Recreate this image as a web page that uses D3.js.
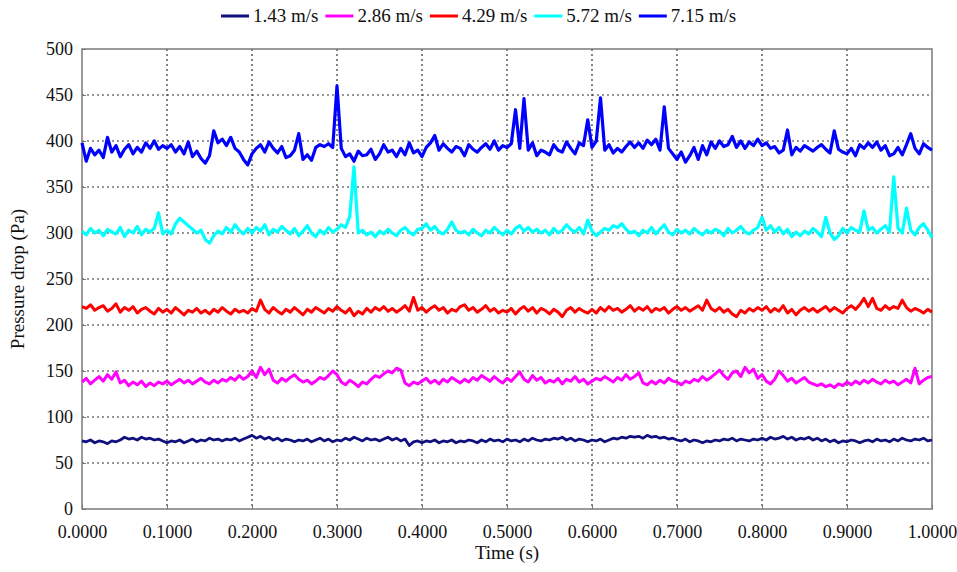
<!DOCTYPE html>
<html>
<head>
<meta charset="utf-8">
<script src="https://cdn.jsdelivr.net/npm/d3@7"></script>
<style>
  body { margin: 0; background: #fff; }
  svg text { font-family: "Liberation Serif", "Times New Roman", serif; fill: #111; }
</style>
</head>
<body>
<svg id="chart" width="957" height="572"></svg>
<script>
// sample times, one reading every 0.005 s
var times = d3.range(0, 201).map(function(i) { return +(i * 0.005).toFixed(3); });

var seriesNames = ["1.43 m/s", "2.86 m/s", "4.29 m/s", "5.72 m/s", "7.15 m/s"];
var seriesColors = ["#10107e", "#ff00ff", "#ff0000", "#00ffff", "#0000ff"];

var xTicks = [0, 0.1, 0.2, 0.3, 0.4, 0.5, 0.6, 0.7, 0.8, 0.9, 1.0];
var yTicks = [0, 50, 100, 150, 200, 250, 300, 350, 400, 450, 500];

var v143 = [
  74, 73, 75, 72, 74, 73, 71, 74, 73, 75,
  78, 76, 77, 75, 78, 76, 77, 75, 76, 74,
  72, 74, 73, 75, 72, 74, 76, 73, 75, 74,
  77, 75, 76, 74, 76, 75, 77, 74, 76, 78,
  80, 77, 79, 76, 78, 75, 77, 74, 76, 75,
  73, 75, 74, 76, 73, 75, 77, 74, 76, 73,
  75, 74, 77, 75, 78, 76, 74, 77, 75, 76,
  74, 76, 78, 75, 77, 74, 76, 69, 73, 74,
  72, 74, 73, 75, 72, 74, 73, 75, 72, 74,
  73, 75, 74, 72, 75, 73, 76, 74, 75, 73,
  76, 74, 75, 73, 76, 74, 77, 75, 74, 76,
  75, 77, 76, 78, 75, 77, 74, 76, 75, 73,
  75, 74, 76, 73, 75, 77, 76, 78, 77, 79,
  78, 79, 77, 80, 78, 79, 77, 78, 76, 77,
  75, 74, 76, 73, 75, 74, 72, 74, 73, 75,
  74, 76, 75, 77, 74, 76, 75, 74, 76, 75,
  77, 75, 78, 76, 77, 79, 76, 78, 75, 77,
  76, 78, 75, 77, 74, 76, 73, 75, 72, 74,
  73, 75, 74, 72, 74, 75, 73, 76, 74, 75,
  73, 76, 74, 77, 75, 74, 76, 75, 77, 74,
  75
];

var v286 = [
  138, 142, 136, 140, 144, 139, 146, 141, 149, 137,
  140, 134, 138, 135, 139, 133, 137, 134, 138, 136,
  139, 135, 138, 141, 137, 140, 136, 139, 142, 138,
  136, 140, 137, 141, 139, 143, 140, 145, 141, 144,
  150, 143, 154, 146, 152, 140, 137, 142, 139, 143,
  146, 141, 138, 140, 136, 139, 143, 141, 145, 150,
  146, 138, 135, 140, 137, 133, 138, 136, 141, 145,
  143, 147, 150, 148, 153, 151, 137, 134, 138, 136,
  139, 142, 137, 140, 136, 141, 138, 143, 140, 137,
  141, 138, 143, 140, 145, 142, 139, 144, 140, 137,
  142, 139, 144, 149, 141, 138, 145, 140, 143, 137,
  140, 138, 142, 136, 141, 139, 144, 138, 141, 136,
  139, 142, 140, 144, 141, 138, 143, 140, 146, 141,
  144, 148, 137, 135, 139, 136, 140, 137, 142, 139,
  138, 135, 139, 137, 141, 139, 144, 140, 143, 147,
  151, 145, 141, 148, 150, 144, 154, 148, 152, 142,
  146, 139, 136, 141, 150, 145, 139, 142, 137, 140,
  143, 138, 136, 134, 136, 133, 135, 132, 136, 134,
  138, 135, 139, 136, 140, 137, 141, 138, 136, 140,
  137, 139, 135, 138, 141, 137, 153, 136, 140, 143,
  144
];

var v429 = [
  220, 218, 222, 216, 219, 221, 215, 218, 223, 214,
  219, 216, 220, 213, 217, 219, 215, 212, 218, 214,
  217, 213, 219, 215, 211, 216, 214, 218, 213, 216,
  212, 217, 214, 219, 215, 212, 217, 214, 216, 213,
  218, 215, 227, 217, 213, 219, 215, 212, 217, 214,
  219, 215, 211, 217, 214, 219, 216, 213, 218, 215,
  220, 216, 213, 218, 210, 215, 212, 218, 214, 219,
  216, 220, 215, 218, 214, 217, 221, 215, 230, 216,
  219, 214, 218, 221, 216, 219, 213, 217, 215, 220,
  222, 216, 219, 214, 217, 221, 215, 218, 213, 216,
  214, 218, 212, 217, 220, 215, 219, 213, 218, 216,
  212, 217, 214, 209, 216, 219, 214, 218, 215, 213,
  217, 213, 219, 215, 220, 216, 218, 214, 217, 221,
  215, 219, 216, 220, 214, 218, 216, 219, 213, 217,
  220, 216, 219, 215, 218, 221, 216, 227, 218, 215,
  219, 214, 217, 212, 209, 216, 213, 218, 215, 219,
  216, 220, 214, 218, 215, 221, 213, 217, 211, 216,
  219, 215, 218, 214, 217, 220, 215, 219, 216, 213,
  218, 221, 217, 222, 229, 220, 229, 218, 216, 221,
  217, 220, 218, 227, 219, 215, 218, 216, 213, 217,
  214
];

var v572 = [
  302, 298, 305, 300, 303, 297, 304, 301, 299, 306,
  296, 303, 300, 307, 298, 304, 301, 305, 322, 299,
  303, 299, 310, 316, 312, 308, 304, 300, 303, 293,
  289, 297, 302, 299, 306, 301, 309, 303, 299, 305,
  300, 306, 302, 309, 298, 304, 301, 307, 303, 299,
  305, 297, 302, 308, 300, 296, 303, 299, 306, 301,
  304, 309, 306, 318, 372, 300, 303, 298, 301, 296,
  302, 299, 304, 300, 297, 303, 306, 301, 298, 304,
  305, 310, 303, 307, 301, 299, 304, 312, 303, 300,
  302, 298, 304, 300, 297, 303, 300, 306, 302, 298,
  303, 299, 305, 308, 302, 306, 301, 304, 300, 303,
  298, 305, 300, 303, 309, 304, 301, 306, 299, 314,
  302, 297, 301, 305, 303, 308, 306, 310, 304, 300,
  302, 297, 303, 300, 306, 299, 304, 309, 301, 298,
  304, 300, 303, 299, 305, 301, 298, 303, 300, 304,
  302, 297, 305, 300, 303, 307, 301, 299, 303, 306,
  317, 303, 308, 301, 306, 299, 304, 296, 301, 297,
  302, 299, 305, 301, 296, 317, 300, 293, 297, 305,
  300, 306, 303, 301, 324, 303, 306, 300, 304, 308,
  301, 361, 305, 300, 327, 303, 298, 306, 310, 303,
  295
];

var v715 = [
  398, 378, 392, 385, 390, 382, 404, 388, 395, 383,
  391, 396, 386, 393, 388, 398, 392, 400, 391, 395,
  392, 396, 388, 394, 386, 399, 383, 389, 381, 376,
  384, 411, 398, 402, 395, 404, 392, 388, 380, 374,
  386, 392, 396, 388, 399, 392, 387, 394, 382, 384,
  390, 408, 380, 385, 379, 393, 396, 394, 397, 393,
  460, 392, 383, 386, 378, 389, 384, 385, 391, 380,
  386, 396, 388, 390, 383, 392, 385, 398, 387, 390,
  383, 393, 398, 406, 390, 397, 392, 388, 394, 392,
  384, 396, 391, 388, 393, 397, 391, 400, 390, 395,
  393, 397, 434, 392, 446, 390, 398, 384, 390, 388,
  385, 396, 390, 388, 399, 392, 386, 398, 395, 423,
  393, 400, 447, 390, 396, 387, 392, 388, 394, 399,
  393, 398, 392, 401, 396, 402, 390, 437, 392, 386,
  380, 388, 377, 384, 393, 380, 395, 385, 399, 392,
  400, 394, 396, 405, 393, 400, 392, 399, 395, 402,
  395, 398, 392, 394, 387, 390, 412, 385, 393, 389,
  395, 392, 389, 393, 396, 391, 387, 411, 391, 388,
  386, 392, 384, 396, 392, 398, 393, 399, 390, 395,
  384, 386, 393, 385, 396, 408, 392, 386, 397, 393,
  390
];

var allValues = [v143, v286, v429, v572, v715];
var strokeWidths = [2.8, 3, 3, 3.2, 3.2];

var svg = d3.select("#chart");
var plotLeft = 82, plotRight = 932, plotTop = 49, plotBottom = 509;

var x = d3.scaleLinear().domain([0, 1]).range([plotLeft, plotRight]);
var y = d3.scaleLinear().domain([0, 500]).range([plotBottom, plotTop]);

// grid
var grid = svg.append("g").attr("class", "grid");
grid.selectAll(".vg").data(xTicks.slice(1, -1)).enter().append("line")
  .attr("x1", function(d) { return x(d); }).attr("x2", function(d) { return x(d); })
  .attr("y1", plotTop).attr("y2", plotBottom)
  .attr("stroke", "#333").attr("stroke-width", 1.2).attr("stroke-dasharray", "2,3");
grid.selectAll(".hg").data(yTicks.slice(1, -1)).enter().append("line")
  .attr("y1", function(d) { return y(d); }).attr("y2", function(d) { return y(d); })
  .attr("x1", plotLeft).attr("x2", plotRight)
  .attr("stroke", "#333").attr("stroke-width", 1.2).attr("stroke-dasharray", "2,3");

// axes
var xAxis = svg.append("g").attr("transform", "translate(0," + plotBottom + ")")
  .call(d3.axisBottom(x).tickValues(xTicks).tickSize(-4).tickPadding(13)
    .tickFormat(d3.format(".4f")));
var yAxis = svg.append("g").attr("transform", "translate(" + plotLeft + ",0)")
  .call(d3.axisLeft(y).tickValues(yTicks).tickSize(-4).tickPadding(9));
[xAxis, yAxis].forEach(function(a) {
  a.select(".domain").remove();
  a.selectAll(".tick line").attr("stroke", "#777");
  a.selectAll("text").style("font-size", "18px").attr("fill", "#111");
});
xAxis.selectAll("text").attr("dy", "0.9em");

// frame
svg.append("rect").attr("x", plotLeft).attr("y", plotTop)
  .attr("width", plotRight - plotLeft).attr("height", plotBottom - plotTop)
  .attr("fill", "none").attr("stroke", "#7a7a7a").attr("stroke-width", 1.5);

// series
var line = d3.line()
  .x(function(d, i) { return x(times[i]); })
  .y(function(d) { return y(d); });

svg.append("g").selectAll("path").data(allValues).enter().append("path")
  .attr("d", line)
  .attr("fill", "none")
  .attr("stroke", function(d, i) { return seriesColors[i]; })
  .attr("stroke-width", function(d, i) { return strokeWidths[i]; })
  .attr("stroke-linejoin", "round");

// legend
var legend = svg.append("g").attr("class", "legend");
var lx = 221;
seriesNames.forEach(function(name, i) {
  var g = legend.append("g").attr("transform", "translate(" + lx + ",16)");
  g.append("line").attr("x1", 0).attr("x2", 28).attr("y1", 0).attr("y2", 0)
    .attr("stroke", seriesColors[i]).attr("stroke-width", 3);
  var t = g.append("text").attr("x", 32).attr("y", 6).style("font-size", "19px").text(name);
  lx += 32 + t.node().getComputedTextLength() + 7;
});

// axis titles
svg.append("text").attr("x", x(0.5)).attr("y", 559)
  .attr("text-anchor", "middle").style("font-size", "19px").text("Time (s)");
svg.append("text").attr("transform", "translate(24," + y(250) + ") rotate(-90)")
  .attr("text-anchor", "middle").style("font-size", "19px").text("Pressure drop (Pa)");
</script>
</body>
</html>
